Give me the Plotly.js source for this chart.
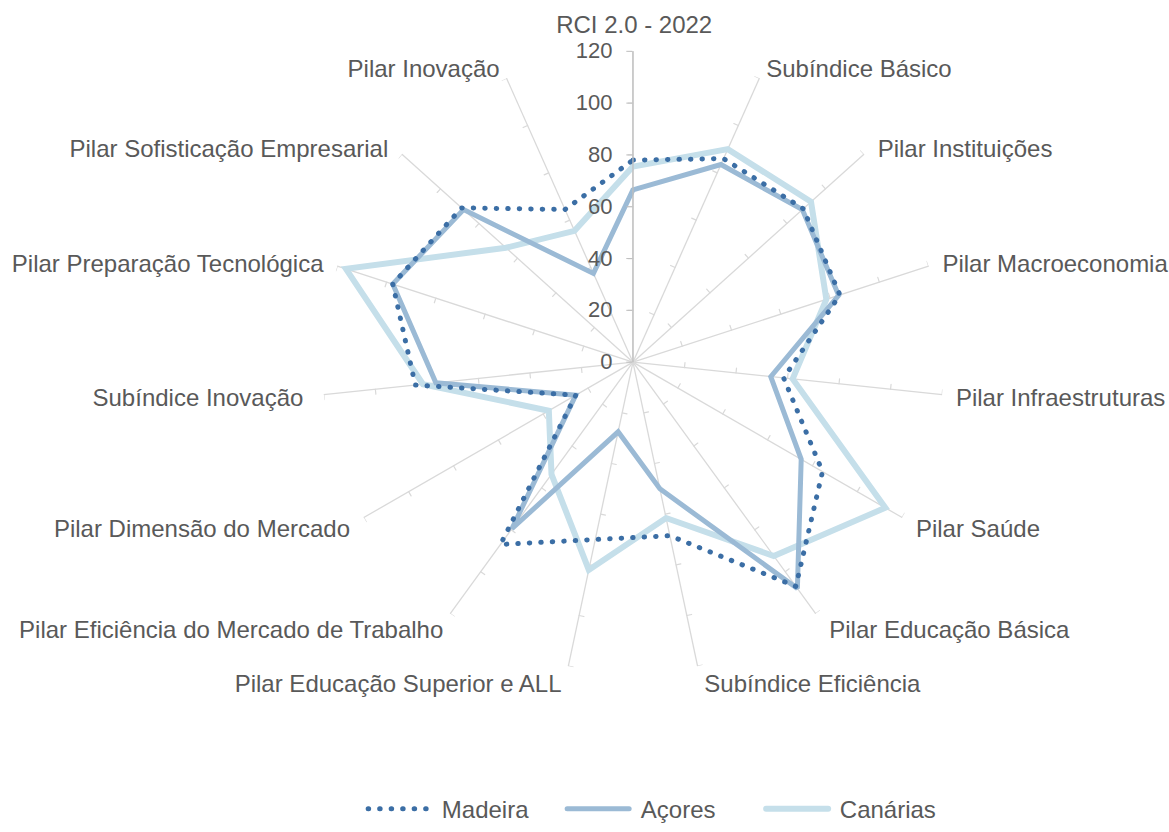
<!DOCTYPE html>
<html>
<head>
<meta charset="utf-8">
<script src="https://cdn.plot.ly/plotly-3.0.1.min.js"></script>
<style>
  body { margin: 0; background: #fff; }
  #chart { width: 1169px; height: 832px; }
  .js-line { stroke-linecap: round; }
</style>
</head>
<body>
<div id="chart"></div>
<script>
var chartTitle = 'RCI 2.0 - 2022';

var categories = [
  '',
  'Subíndice Básico',
  'Pilar Instituições',
  'Pilar Macroeconomia',
  'Pilar Infraestruturas',
  'Pilar Saúde',
  'Pilar Educação Básica',
  'Subíndice Eficiência',
  'Pilar Educação Superior e ALL',
  'Pilar Eficiência do Mercado de Trabalho',
  'Pilar Dimensão do Mercado',
  'Subíndice Inovação',
  'Pilar Preparação Tecnológica',
  'Pilar Sofisticação Empresarial',
  'Pilar Inovação'
];

var seriesNames = ['Madeira', 'Açores', 'Canárias'];
var madeira  = [78, 86, 88.5, 84, 58.5, 84.5, 107, 68.5, 70, 87, 25.5, 84.5, 97.5, 89, 64.5];
var acores   = [66.5, 83.5, 88, 83.5, 53.5, 75, 108, 50, 27.5, 79.5, 25.5, 76.5, 97.5, 88, 37.5];
var canarias = [75.5, 90, 92.5, 78.5, 62, 112.5, 92.5, 61.5, 82, 53.5, 37.5, 81.5, 116.5, 66, 55.5];

var radialTicks = [20, 40, 60, 80, 100, 120];

var step = 360 / categories.length;
var angles = categories.map(function (c, i) { return i * step; });

// extra gap between spoke end and label (in spaces), Excel puts labels a bit further out sideways
var labelGap = [0, 1, 2, 2, 2, 2, 2, 1, 1, 1, 2, 3, 2, 2, 1];
var NBSP = '\u00a0';
var tickText = categories.map(function (c, i) {
  if (!c) return c;
  var pad = NBSP.repeat(labelGap[i]);
  return angles[i] < 180 ? pad + c : c + pad;
});

function closed(arr) { return arr.concat([arr[0]]); }

// little tick marks along every spoke, like the Excel radar
var tickR = [], tickT = [];
var tickLen = 1.9;
angles.forEach(function (a) {
  radialTicks.forEach(function (t) {
    tickR.push(t, Math.sqrt(t * t + tickLen * tickLen), null);
    tickT.push(a, a - Math.atan(tickLen / t) * 180 / Math.PI, null);
  });
});

var spokeTicks = {
  type: 'scatterpolar', mode: 'lines',
  r: tickR, theta: tickT,
  line: { color: '#d9d9d9', width: 1.2 },
  showlegend: false, hoverinfo: 'skip'
};

var trCanarias = {
  type: 'scatterpolar', mode: 'lines', name: NBSP + seriesNames[2],
  r: closed(canarias), theta: closed(angles),
  line: { color: '#c5dfea', width: 6 },
  legendrank: 3
};
var trAcores = {
  type: 'scatterpolar', mode: 'lines', name: NBSP + seriesNames[1],
  r: closed(acores), theta: closed(angles),
  line: { color: '#9bbad5', width: 5 },
  legendrank: 2
};
var trMadeira = {
  type: 'scatterpolar', mode: 'lines', name: NBSP + seriesNames[0],
  r: closed(madeira), theta: closed(angles),
  line: { color: '#3b6ea5', width: 5, dash: '0.5px,11px' },
  legendrank: 1
};

var layout = {
  width: 1169, height: 832,
  margin: { l: 0, r: 0, t: 0, b: 0 },
  paper_bgcolor: '#fff',
  font: { family: 'Arial, "Liberation Sans", sans-serif', color: '#595959', size: 24 },
  title: {
    text: chartTitle, x: 0.5425, xanchor: 'center', y: 0.971, yanchor: 'middle',
    font: { size: 24, color: '#595959' }
  },
  polar: {
    domain: { x: [0.2720, 0.8109], y: [0.1803, 0.9375] },
    bgcolor: 'rgba(0,0,0,0)',
    angularaxis: {
      type: 'linear', thetaunit: 'degrees',
      direction: 'clockwise', rotation: 90,
      tickmode: 'array', tickvals: angles, ticktext: tickText,
      ticks: '', showline: false,
      showgrid: true, gridcolor: '#d9d9d9', gridwidth: 1.3,
      tickfont: { size: 24, color: '#595959' }
    },
    radialaxis: {
      range: [0, 120], dtick: 20, angle: 90, side: 'counterclockwise', tickangle: 90,
      ticksuffix: NBSP,
      showgrid: false, showline: true, linecolor: '#bfbfbf', linewidth: 1.3,
      ticks: 'outside', ticklen: 6, tickcolor: '#bfbfbf',
      tickfont: { size: 22, color: '#595959' }
    }
  },
  showlegend: true,
  legend: {
    orientation: 'h', x: 0.566, xanchor: 'center', y: 0.0144, yanchor: 'middle',
    itemwidth: 62, entrywidth: 122, font: { size: 24, color: '#595959' }
  }
};

Plotly.newPlot('chart', [spokeTicks, trCanarias, trAcores, trMadeira], layout, { displayModeBar: false, staticPlot: true });
</script>
</body>
</html>
